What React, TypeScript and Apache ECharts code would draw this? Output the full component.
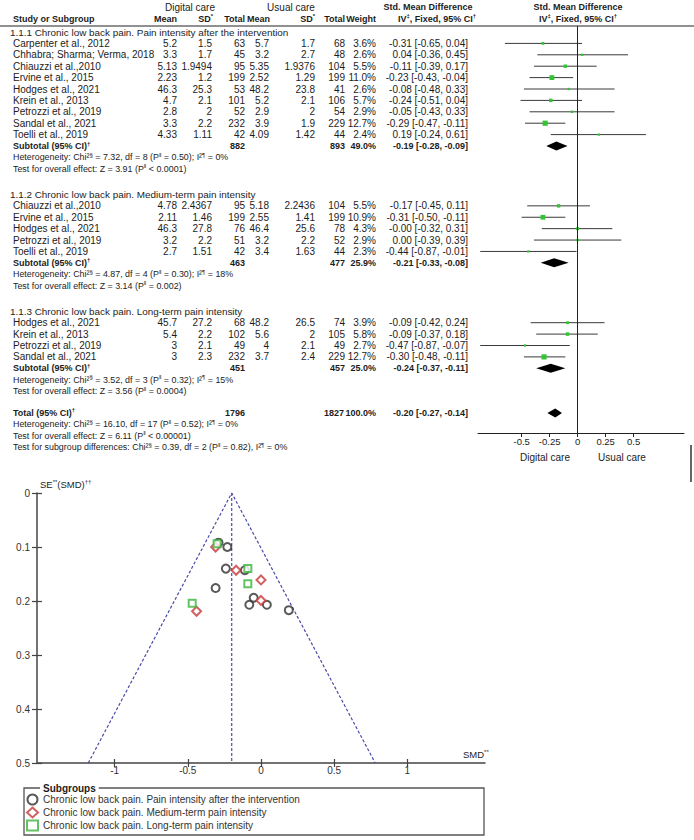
import React, { useEffect, useRef } from "react";
import * as echarts from "echarts";

// ---------------- Forest plot data ----------------
const groupTitles = [
  "1.1.1 Chronic low back pain. Pain intensity after the intervention",
  "1.1.2 Chronic low back pain. Medium-term pain intensity",
  "1.1.3 Chronic low back pain. Long-term pain intensity",
];

const g1Studies = ["Carpenter et al., 2012", "Chhabra; Sharma; Verma, 2018", "Chiauzzi et al.,2010", "Ervine et al., 2015", "Hodges et al., 2021", "Krein et al., 2013", "Petrozzi et al., 2019", "Sandal et al., 2021", "Toelli et al., 2019"];
const g1DigitalMean = [5.2, 3.3, 5.13, 2.23, 46.3, 4.7, 2.8, 3.3, 4.33];
const g1DigitalSd = [1.5, 1.7, 1.9494, 1.2, 25.3, 2.1, 2, 2.2, 1.11];
const g1DigitalN = [63, 45, 95, 199, 53, 101, 52, 232, 42];
const g1UsualMean = [5.7, 3.2, 5.35, 2.52, 48.2, 5.2, 2.9, 3.9, 4.09];
const g1UsualSd = [1.7, 2.7, 1.9376, 1.29, 23.8, 2.1, 2, 1.9, 1.42];
const g1UsualN = [68, 48, 104, 199, 41, 106, 54, 229, 44];
const g1Weight = [3.6, 2.6, 5.5, 11.0, 2.6, 5.7, 2.9, 12.7, 2.4];
const g1Smd = [-0.31, 0.04, -0.11, -0.23, -0.08, -0.24, -0.05, -0.29, 0.19];
const g1Lo = [-0.65, -0.36, -0.39, -0.43, -0.48, -0.51, -0.43, -0.47, -0.24];
const g1Hi = [0.04, 0.45, 0.17, -0.04, 0.33, 0.04, 0.33, -0.11, 0.61];
const g1Se = [0.176, 0.207, 0.143, 0.1, 0.207, 0.14, 0.194, 0.092, 0.217];

const g2Studies = ["Chiauzzi et al.,2010", "Ervine et al., 2015", "Hodges et al., 2021", "Petrozzi et al., 2019", "Toelli et al., 2019"];
const g2DigitalMean = [4.78, 2.11, 46.3, 3.2, 2.7];
const g2DigitalSd = [2.4367, 1.46, 27.8, 2.2, 1.51];
const g2DigitalN = [95, 199, 76, 51, 42];
const g2UsualMean = [5.18, 2.55, 46.4, 3.2, 3.4];
const g2UsualSd = [2.2436, 1.41, 25.6, 2.2, 1.63];
const g2UsualN = [104, 199, 78, 52, 44];
const g2Weight = [5.5, 10.9, 4.3, 2.9, 2.3];
const g2Smd = [-0.17, -0.31, -0, 0.0, -0.44];
const g2Lo = [-0.45, -0.5, -0.32, -0.39, -0.87];
const g2Hi = [0.11, -0.11, 0.31, 0.39, -0.01];
const g2Se = [0.143, 0.1, 0.161, 0.199, 0.219];

const g3Studies = ["Hodges et al., 2021", "Krein et al., 2013", "Petrozzi et al., 2019", "Sandal et al., 2021"];
const g3DigitalMean = [45.7, 5.4, 3, 3];
const g3DigitalSd = [27.2, 2.2, 2.1, 2.3];
const g3DigitalN = [68, 102, 49, 232];
const g3UsualMean = [48.2, 5.6, 4, 3.7];
const g3UsualSd = [26.5, 2, 2.1, 2.4];
const g3UsualN = [74, 105, 49, 229];
const g3Weight = [3.9, 5.8, 2.7, 12.7];
const g3Smd = [-0.09, -0.09, -0.47, -0.3];
const g3Lo = [-0.42, -0.37, -0.87, -0.48];
const g3Hi = [0.24, 0.18, -0.07, -0.11];
const g3Se = [0.168, 0.14, 0.204, 0.094];

const subDigitalN = [882, 463, 451];
const subUsualN = [893, 477, 457];
const subWeight = [49.0, 25.9, 25.0];
const subSmd = [-0.19, -0.21, -0.24];
const subLo = [-0.28, -0.33, -0.37];
const subHi = [-0.09, -0.08, -0.11];
const subChi2 = ["7.32", "4.87", "3.52"];
const subDf = [8, 4, 3];
const subPhet = ["= 0.50", "= 0.30", "= 0.32"];
const subI2 = [0, 18, 15];
const subZ = ["3.91", "3.14", "3.56"];
const subPz = ["< 0.0001", "= 0.002", "= 0.0004"];

const totalDigitalN = 1796;
const totalUsualN = 1827;
const totalWeight = 100.0;
const totalSmd = -0.2;
const totalLo = -0.27;
const totalHi = -0.14;
const totalHet = { chi2: "16.10", df: 17, p: "= 0.52", i2: 0 };
const totalTest = { z: "6.11", p: "< 0.00001" };
const subgroupDiff = { chi2: "0.39", df: 2, p: "= 0.82", i2: 0 };

const forestTicks = [-0.5, -0.25, 0, 0.25, 0.5];
const funnelXTicks = [-1, -0.5, 0, 0.5, 1];
const funnelApex = -0.2;
const funnelBaseLeft = -1.18;
const funnelBaseRight = 0.78;
const funnelSeMax = 0.5;

const seriesNames = [
  "Chronic low back pain. Pain intensity after the intervention",
  "Chronic low back pain. Medium-term pain intensity",
  "Chronic low back pain. Long-term pain intensity",
];

// ---------------- layout ----------------
const FONT = "'Liberation Sans', Arial, Helvetica, sans-serif";
const FS = 10; // regular table text
const FS_B = 9; // bold table text
const FS_STAT = 8.9; // heterogeneity / test lines
const FS_TITLE = 9.9;
const INK = "#1c1c1c";
const ROW_H = 11.4;
const TABLE_Y0 = 32;
const HEADER_LINE_Y = 26;
const FOREST_AXIS_Y = 433;
const groupStartRow = [0, 14.25, 24.5];
const totalRow = 33.42;
const yOf = (u: number) => TABLE_Y0 + u * ROW_H;
const COL = { title: 10, name: 13, dMean: 177, dSd: 212, dN: 245, uMean: 269, uSd: 315, uN: 345, w: 376, ci: 468 };

const RICH = {
  s: { fontSize: 6, fontFamily: FONT, fill: INK, verticalAlign: "top", lineHeight: 11 },
  sb: { fontSize: 6, fontFamily: FONT, fontWeight: "bold", fill: INK, verticalAlign: "top", lineHeight: 11 },
};

function txt(x: number, y: number, text: string, align = "left", bold = false, size = FS, extra: any = {}) {
  return {
    type: "text",
    x,
    y,
    silent: true,
    style: {
      text,
      fill: INK,
      fontSize: size,
      fontFamily: FONT,
      fontWeight: bold ? "bold" : "normal",
      textAlign: align,
      align,
      textVerticalAlign: "middle",
      verticalAlign: "middle",
      lineHeight: 11,
      rich: RICH,
      ...extra,
    },
  };
}

const fmt2 = (v: number) => (Object.is(v, -0) ? "-0.00" : v.toFixed(2));
const ciText = (m: number, lo: number, hi: number) => `${fmt2(m)} [${fmt2(lo)}, ${fmt2(hi)}]`;
const hetText = (chi2: string, df: number, p: string, i2: number, sep = ";") =>
  `Heterogeneity: Chi²{s|§} = ${chi2}, df = ${df} (P{s|‖} ${p})${sep} I²{s|¶} = ${i2}%`;

function buildOption() {
  const groups = [
    { names: g1Studies, dm: g1DigitalMean, dsd: g1DigitalSd, dn: g1DigitalN, um: g1UsualMean, usd: g1UsualSd, un: g1UsualN, w: g1Weight, smd: g1Smd, lo: g1Lo, hi: g1Hi, se: g1Se },
    { names: g2Studies, dm: g2DigitalMean, dsd: g2DigitalSd, dn: g2DigitalN, um: g2UsualMean, usd: g2UsualSd, un: g2UsualN, w: g2Weight, smd: g2Smd, lo: g2Lo, hi: g2Hi, se: g2Se },
    { names: g3Studies, dm: g3DigitalMean, dsd: g3DigitalSd, dn: g3DigitalN, um: g3UsualMean, usd: g3UsualSd, un: g3UsualN, w: g3Weight, smd: g3Smd, lo: g3Lo, hi: g3Hi, se: g3Se },
  ];

  const g: any[] = [];
  // headers
  g.push(txt(190, 7, "Digital care", "center", false, 10));
  g.push(txt(291, 7, "Usual care", "center", false, 10));
  g.push(txt(428, 7, "Std. Mean Difference", "center", true, FS_B));
  g.push(txt(578, 7, "Std. Mean Difference", "center", true, FS_B));
  const hy = 18.5;
  g.push(txt(COL.name, hy, "Study or Subgroup", "left", true, FS_B));
  g.push(txt(COL.dMean, hy, "Mean", "right", true, FS_B));
  g.push(txt(COL.dSd + 1, hy, "SD{sb|*}", "right", true, FS_B));
  g.push(txt(COL.dN, hy, "Total", "right", true, FS_B));
  g.push(txt(COL.uMean + 1, hy, "Mean", "right", true, FS_B));
  g.push(txt(COL.uSd, hy, "SD{sb|*}", "right", true, FS_B));
  g.push(txt(COL.uN, hy, "Total", "right", true, FS_B));
  g.push(txt(COL.w, hy, "Weight", "right", true, FS_B));
  g.push(txt(437, hy, "IV{sb|‡}, Fixed, 95% CI{sb|†}", "center", true, FS_B));
  g.push(txt(578, hy, "IV{sb|‡}, Fixed, 95% CI{sb|†}", "center", true, FS_B));
  g.push({ type: "line", silent: true, shape: { x1: 0, y1: HEADER_LINE_Y, x2: 694, y2: HEADER_LINE_Y }, style: { stroke: "#222", lineWidth: 1 } });

  const studyData: any[] = [];
  const diamondData: any[] = [];

  groups.forEach((grp, gi) => {
    const start = groupStartRow[gi];
    g.push(txt(COL.title, yOf(start), groupTitles[gi], "left", false, FS_TITLE));
    grp.names.forEach((nm, k) => {
      const u = start + 1 + k;
      const y = yOf(u);
      g.push(txt(COL.name, y, nm));
      g.push(txt(COL.dMean, y, String(grp.dm[k]), "right"));
      g.push(txt(COL.dSd, y, String(grp.dsd[k]), "right"));
      g.push(txt(COL.dN, y, String(grp.dn[k]), "right"));
      g.push(txt(COL.uMean, y, String(grp.um[k]), "right"));
      g.push(txt(COL.uSd, y, String(grp.usd[k]), "right"));
      g.push(txt(COL.uN, y, String(grp.un[k]), "right"));
      g.push(txt(COL.w, y, grp.w[k].toFixed(1) + "%", "right"));
      g.push(txt(COL.ci, y, ciText(grp.smd[k], grp.lo[k], grp.hi[k]), "right"));
      studyData.push([grp.smd[k], grp.lo[k], grp.hi[k], u, grp.w[k]]);
    });
    const su = start + 1 + grp.names.length;
    const sy = yOf(su);
    g.push(txt(COL.name, sy, "Subtotal (95% CI){sb|†}", "left", true, FS_B));
    g.push(txt(COL.dN, sy, String(subDigitalN[gi]), "right", true, FS_B));
    g.push(txt(COL.uN, sy, String(subUsualN[gi]), "right", true, FS_B));
    g.push(txt(COL.w, sy, subWeight[gi].toFixed(1) + "%", "right", true, FS_B));
    g.push(txt(COL.ci, sy, ciText(subSmd[gi], subLo[gi], subHi[gi]), "right", true, FS_B));
    diamondData.push([subSmd[gi], subLo[gi], subHi[gi], su]);
    g.push(txt(COL.name, yOf(su + 1), hetText(subChi2[gi], subDf[gi], subPhet[gi], subI2[gi]), "left", false, FS_STAT));
    g.push(txt(COL.name, yOf(su + 2), `Test for overall effect: Z = ${subZ[gi]} (P{s|‖} ${subPz[gi]})`, "left", false, FS_STAT));
  });

  const ty = yOf(totalRow);
  g.push(txt(COL.name, ty, "Total (95% CI){sb|†}", "left", true, FS_B));
  g.push(txt(COL.dN, ty, String(totalDigitalN), "right", true, FS_B));
  g.push(txt(COL.uN - 1, ty, String(totalUsualN), "right", true, FS_B));
  g.push(txt(COL.w, ty, totalWeight.toFixed(1) + "%", "right", true, FS_B));
  g.push(txt(COL.ci, ty, ciText(totalSmd, totalLo, totalHi), "right", true, FS_B));
  diamondData.push([totalSmd, totalLo, totalHi, totalRow]);
  g.push(txt(COL.name, yOf(totalRow + 1), hetText(totalHet.chi2, totalHet.df, totalHet.p, totalHet.i2), "left", false, FS_STAT));
  g.push(txt(COL.name, yOf(totalRow + 2), `Test for overall effect: Z = ${totalTest.z} (P{s|‖} ${totalTest.p})`, "left", false, FS_STAT));
  g.push(txt(COL.name, yOf(totalRow + 3), `Test for subgroup differences: Chi²{s|§} = ${subgroupDiff.chi2}, df = ${subgroupDiff.df} (P{s|‖} ${subgroupDiff.p}), I²{s|¶} = ${subgroupDiff.i2}%`, "left", false, FS_STAT));

  // forest axis side labels
  g.push(txt(545, 457, "Digital care", "center", false, 10));
  g.push(txt(622, 457, "Usual care", "center", false, 10));
  g.push({ type: "line", silent: true, shape: { x1: 691, y1: 445, x2: 691, y2: 482 }, style: { stroke: "#333", lineWidth: 1.5 } });

  // funnel texts
  g.push(txt(40, 484, "SE{s|**}(SMD){s|††}", "left", false, 9.5));
  g.push(txt(463, 754, "SMD{s|**}", "left", false, 9.5));

  // legend box
  g.push({ type: "rect", silent: true, shape: { x: 24, y: 788, width: 460, height: 47 }, style: { fill: "none", stroke: "#555", lineWidth: 1.3 } });
  g.push(txt(40, 788, "Subgroups", "left", true, 10, { backgroundColor: "#fff", padding: [0, 3, 0, 3] }));

  const fMin = (HEADER_LINE_Y - TABLE_Y0) / ROW_H;
  const fMax = (FOREST_AXIS_Y - TABLE_Y0) / ROW_H;

  const funnelColors = ["#2f2f2f", "#c8373a", "#3cb43c"];
  const funnelSymbols = ["emptyCircle", "emptyDiamond", "emptyRect"];
  const funnelSizes = [8, 9, 7];

  const scatterSeries = groups.map((grp, gi) => ({
    type: "scatter",
    name: seriesNames[gi],
    xAxisIndex: 1,
    yAxisIndex: 1,
    symbol: funnelSymbols[gi],
    symbolSize: funnelSizes[gi],
    itemStyle: { color: funnelColors[gi], borderColor: funnelColors[gi], borderWidth: 1.2 },
    data: grp.smd.map((s, k) => [s, grp.se[k]]),
    z: 5,
  }));

  const dashed = { color: "#4b4ba8", width: 1.2, type: [3, 2] };

  return {
    animation: false,
    backgroundColor: "#fff",
    textStyle: { fontFamily: FONT },
    grid: [
      { left: 478, top: HEADER_LINE_Y, width: 206, height: FOREST_AXIS_Y - HEADER_LINE_Y, outerBoundsMode: "none", containLabel: false },
      { left: 37, top: 493, width: 448, height: 270, outerBoundsMode: "none", containLabel: false },
    ],
    xAxis: [
      {
        type: "value", gridIndex: 0, min: -0.89, max: 0.95,
        axisLine: { show: true, onZero: false, lineStyle: { color: "#222", width: 1 } },
        axisTick: { show: true, customValues: forestTicks, length: 4, lineStyle: { color: "#222" } },
        axisLabel: { customValues: forestTicks, fontSize: 9.5, color: INK, margin: 3, fontFamily: FONT },
        splitLine: { show: false },
      },
      {
        type: "value", gridIndex: 1, min: -1.53, max: 1.53, position: "bottom",
        axisLine: { show: true, onZero: false, lineStyle: { color: "#444", width: 1.5 } },
        axisTick: { show: true, customValues: funnelXTicks, length: 4, lineStyle: { color: "#444", width: 1.2 } },
        axisLabel: { customValues: funnelXTicks, fontSize: 10, color: "#333", margin: 2, fontFamily: FONT },
        splitLine: { show: false },
      },
      {
        type: "value", gridIndex: 1, min: -1.53, max: 1.53, position: "bottom",
        axisLine: { show: false, onZero: false },
        axisTick: { show: true, inside: true, customValues: funnelXTicks, length: 4, lineStyle: { color: "#444", width: 1.2 } },
        axisLabel: { show: false },
        splitLine: { show: false },
      },
    ],
    yAxis: [
      { type: "value", gridIndex: 0, min: fMin, max: fMax, inverse: true, show: false },
      {
        type: "value", gridIndex: 1, min: 0, max: funnelSeMax, interval: 0.1, inverse: true, position: "left",
        axisLine: { show: true, onZero: false, lineStyle: { color: "#444", width: 1.5 } },
        axisTick: { show: true, length: 5, lineStyle: { color: "#444", width: 1.2 } },
        axisLabel: { fontSize: 10, color: "#333", margin: 7, fontFamily: FONT, formatter: (v: number) => String(Math.round(v * 10) / 10) },
        splitLine: { show: false },
      },
      {
        type: "value", gridIndex: 1, min: 0, max: funnelSeMax, interval: 0.1, inverse: true, position: "left",
        axisLine: { show: false, onZero: false },
        axisTick: { show: true, inside: true, length: 5, lineStyle: { color: "#444", width: 1.2 } },
        axisLabel: { show: false },
        splitLine: { show: false },
      },
    ],
    legend: {
      data: seriesNames,
      orient: "vertical",
      left: 26,
      top: 793.5,
      height: 45,
      padding: 0,
      itemWidth: 11,
      itemHeight: 10,
      itemGap: 1,
      selectedMode: false,
      textStyle: { fontSize: 10, color: "#333", fontFamily: FONT, lineHeight: 10 },
    },
    graphic: g,
    series: [
      {
        type: "custom",
        xAxisIndex: 0,
        yAxisIndex: 0,
        clip: false,
        data: studyData,
        encode: { x: [0, 1, 2], y: 3 },
        renderItem: (params: any, api: any) => {
          const y = api.coord([0, api.value(3)])[1];
          const x0 = api.coord([api.value(1), 0])[0];
          const x1 = api.coord([api.value(2), 0])[0];
          const xc = api.coord([api.value(0), 0])[0];
          const s = 1.45 * Math.sqrt(api.value(4));
          return {
            type: "group",
            children: [
              { type: "line", shape: { x1: x0, y1: y, x2: x1, y2: y }, style: { stroke: "#3a3a3a", lineWidth: 1 } },
              { type: "rect", shape: { x: xc - s / 2, y: y - s / 2, width: s, height: s }, style: { fill: "#33c433" } },
            ],
          };
        },
        markLine: {
          silent: true,
          symbol: "none",
          label: { show: false },
          lineStyle: { color: "#222", width: 1, type: "solid" },
          data: [{ xAxis: 0 }],
        },
      },
      {
        type: "custom",
        xAxisIndex: 0,
        yAxisIndex: 0,
        clip: false,
        data: diamondData,
        encode: { x: [0, 1, 2], y: 3 },
        renderItem: (params: any, api: any) => {
          const y = api.coord([0, api.value(3)])[1];
          const x0 = api.coord([api.value(1), 0])[0];
          const x1 = api.coord([api.value(2), 0])[0];
          const xc = api.coord([api.value(0), 0])[0];
          const h = 4.5;
          return {
            type: "polygon",
            shape: { points: [[x0, y], [xc, y - h], [x1, y], [xc, y + h]] },
            style: { fill: "#000" },
          };
        },
      },
      {
        type: "line",
        xAxisIndex: 1,
        yAxisIndex: 1,
        showSymbol: false,
        silent: true,
        lineStyle: dashed,
        data: [[funnelBaseLeft, funnelSeMax], [funnelApex, 0], [funnelBaseRight, funnelSeMax]],
        z: 2,
      },
      {
        type: "line",
        xAxisIndex: 1,
        yAxisIndex: 1,
        showSymbol: false,
        silent: true,
        lineStyle: dashed,
        data: [[funnelApex, 0], [funnelApex, funnelSeMax]],
        z: 2,
      },
      ...scatterSeries,
    ],
  };
}

export default function App() {
  const ref = useRef<HTMLDivElement>(null);
  useEffect(() => {
    if (!ref.current) return;
    const chart = echarts.init(ref.current, undefined, { renderer: "svg", width: 694, height: 840 });
    chart.setOption(buildOption() as any);
    return () => chart.dispose();
  }, []);
  return (
    <div
      ref={ref}
      style={{ position: "absolute", left: 0, top: 0, width: 694, height: 840, background: "#fff" }}
    />
  );
}
